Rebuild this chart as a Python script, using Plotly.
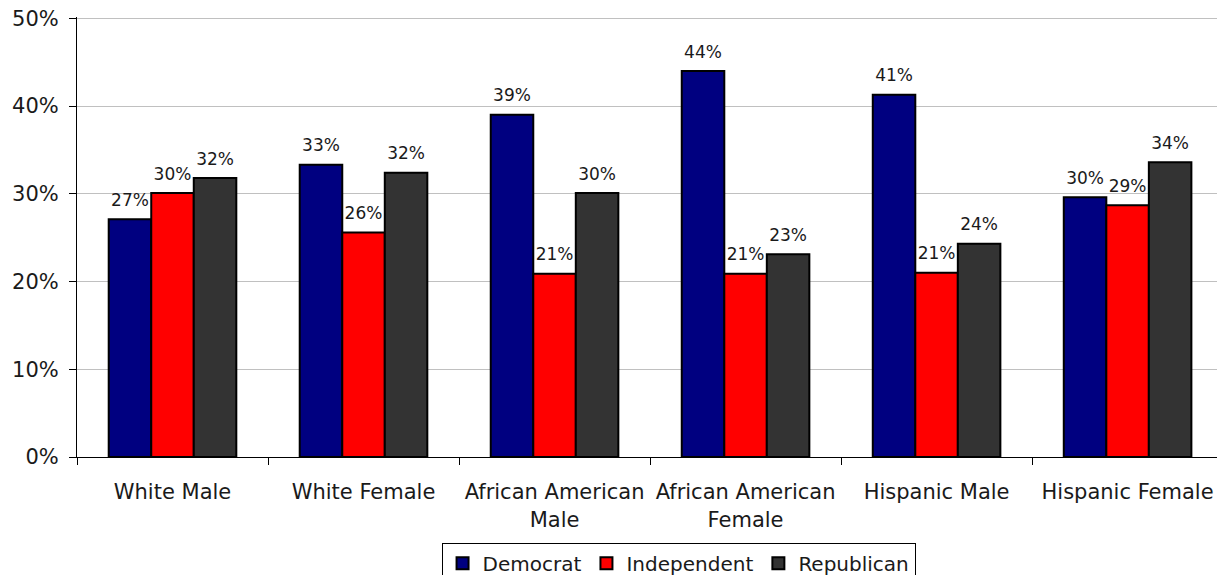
import plotly.graph_objects as go

categories = ["White Male", "White Female", "African American<br>Male",
              "African American<br>Female", "Hispanic Male", "Hispanic Female"]
democrat = [27.1, 33.3, 39.0, 44.0, 41.3, 29.6]
independent = [30.1, 25.6, 20.9, 20.9, 21.0, 28.7]
republican = [31.8, 32.4, 30.1, 23.1, 24.3, 33.6]
series_names = ["Democrat", "Independent", "Republican"]
series_colors = ["#000080", "#FF0000", "#333333"]
y_ticks = [0, 10, 20, 30, 40, 50]
y_ticktext = [f"{v}%" for v in y_ticks]

FONT = "DejaVu Sans, Verdana, sans-serif"
GAP = 0.332

fig = go.Figure()
for name, vals, col in zip(series_names, [democrat, independent, republican], series_colors):
    fig.add_trace(go.Bar(
        x=categories, y=vals, name=name, offsetgroup=name, alignmentgroup="g",
        marker=dict(color=col, line=dict(color="#000000", width=2)),
        hoverinfo="skip",
    ))
for name, vals in zip(series_names, [democrat, independent, republican]):
    fig.add_trace(go.Scatter(
        x=categories, y=vals, mode="markers+text", offsetgroup=name, alignmentgroup="g",
        marker=dict(size=13, opacity=0),
        text=[f"{v:.0f}%" for v in vals], textposition="top center",
        textfont=dict(family=FONT, size=17, color="#1a1a1a"),
        showlegend=False, hoverinfo="skip", cliponaxis=False,
    ))

# page body has an 8px default margin; sizes below account for it
fig.update_layout(
    width=1217, height=567,
    margin=dict(l=69, r=0, t=9, b=118, autoexpand=False),
    barmode="group", bargap=GAP, bargroupgap=0,
    scattermode="group", scattergap=GAP,
    plot_bgcolor="white", paper_bgcolor="white",
    font=dict(family=FONT, size=20, color="#1a1a1a"),
    legend=dict(orientation="h", x=0.524, xanchor="center", y=-0.195, yanchor="top",
                bordercolor="#000000", borderwidth=1, bgcolor="white",
                font=dict(family=FONT, size=20, color="#1a1a1a"),
                itemwidth=30, tracegroupgap=0),
)
fig.update_xaxes(
    showline=True, linecolor="#000000", linewidth=1,
    ticks="outside", tickson="boundaries", ticklen=7, tickcolor="#000000",
    tickfont=dict(family=FONT, size=21, color="#1a1a1a"),
    ticklabelstandoff=16, range=[-0.5, 5.51], automargin=False,
    showgrid=False,
)
fig.update_yaxes(
    range=[0, 50.15], tickvals=y_ticks, ticktext=y_ticktext,
    showline=True, linecolor="#000000", linewidth=1,
    ticks="outside", ticklen=7, tickcolor="#000000",
    tickfont=dict(family=FONT, size=21, color="#1a1a1a"),
    ticklabelstandoff=6, automargin=False, ticklabeloverflow="allow",
    showgrid=True, gridcolor="#c0c0c0", gridwidth=1, zeroline=False,
)

fig.write_html("out.html")
